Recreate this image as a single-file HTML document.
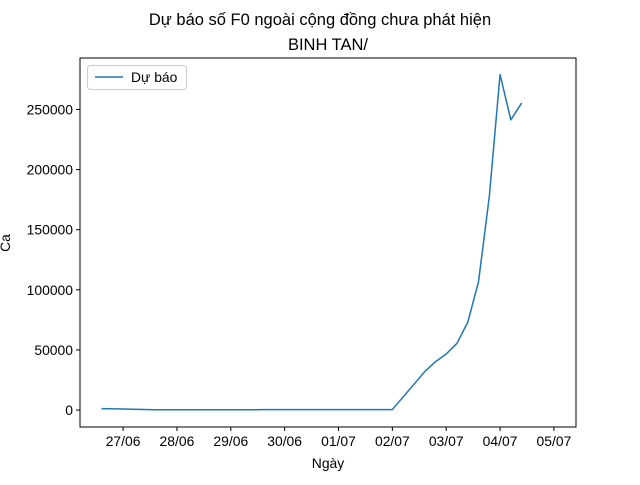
<!DOCTYPE html>
<html><head><meta charset="utf-8"><style>
body{margin:0;background:#fff;}
svg text{font-family:"Liberation Sans","DejaVu Sans",sans-serif;fill:#000;}
</style></head><body>
<svg id="chart" width="640" height="480" xmlns="http://www.w3.org/2000/svg">
<rect width="640" height="480" fill="#fff"/>
<text x="320" y="25" font-size="16.5" text-anchor="middle">Dự báo số F0 ngoài cộng đồng chưa phát hiện</text>
<text x="328" y="50" font-size="16.5" text-anchor="middle">BINH TAN/</text>
<g id="axes"></g>
<text x="328" y="468" font-size="13.9" text-anchor="middle">Ngày</text>
<text transform="translate(10,243) rotate(-90)" font-size="13.9" text-anchor="middle">Ca</text>
<g>
<rect x="87.5" y="65.5" width="99" height="24" rx="3" fill="#fff" stroke="#ccc"/>
<line x1="95" y1="77" x2="123" y2="77" stroke="#1f77b4" stroke-width="1.5"/>
<text x="131" y="82" font-size="13.9">Dự báo</text>
</g>
</svg>
<script>
const dayOffsets=[0.6,1.0,1.6,2.0,3.0,3.6,4.0,5.0,6.0,6.6,6.8,7.0,7.2,7.4,7.6,7.8,8.0,8.2,8.4];
const forecastValues=[1200,900,200,200,200,300,400,300,400,31900,40200,46600,55500,73000,106800,177500,279000,241400,255300];
const xTickLabels=["27/06","28/06","29/06","30/06","01/07","02/07","03/07","04/07","05/07"];
const xTickDays=[1,2,3,4,5,6,7,8,9];
const yTickValues=[0,50000,100000,150000,200000,250000];
const L=80,R=576,T=58,B=427,xMin=0.2,xMax=9.41,yMin=-14100,yMax=292800;
const sx=d=>L+(d-xMin)/(xMax-xMin)*(R-L);
const sy=v=>B-(v-yMin)/(yMax-yMin)*(B-T);
const NS="http://www.w3.org/2000/svg";
const g=document.getElementById('axes');
function mk(t,a,p){const e=document.createElementNS(NS,t);for(const k in a)e.setAttribute(k,a[k]);(p||g).appendChild(e);return e;}
const line=mk('polyline',{points:dayOffsets.map((d,i)=>sx(d)+','+sy(forecastValues[i])).join(' '),fill:'none',stroke:'#1f77b4','stroke-width':1.5,'stroke-linejoin':'round'});


const frame=mk('rect',{x:L,y:T,width:R-L,height:B-T,fill:'none',stroke:'#000','stroke-width':1});


xTickDays.forEach((d,i)=>{const x=sx(d);
 const tk=mk('line',{x1:x,y1:B,x2:x,y2:B+4,stroke:'#000'});
 
 
 const tx=mk('text',{x:x,y:B+19,'font-size':13.9,'text-anchor':'middle'});tx.textContent=xTickLabels[i];
 
 
});
yTickValues.forEach(v=>{const y=sy(v);
 const tk=mk('line',{x1:L-4,y1:y,x2:L,y2:y,stroke:'#000'});
 
 
 const tx=mk('text',{x:L-7,y:y+5,'font-size':13.9,'text-anchor':'end'});tx.textContent=String(v);
 
 
});
</script>
</body></html>
